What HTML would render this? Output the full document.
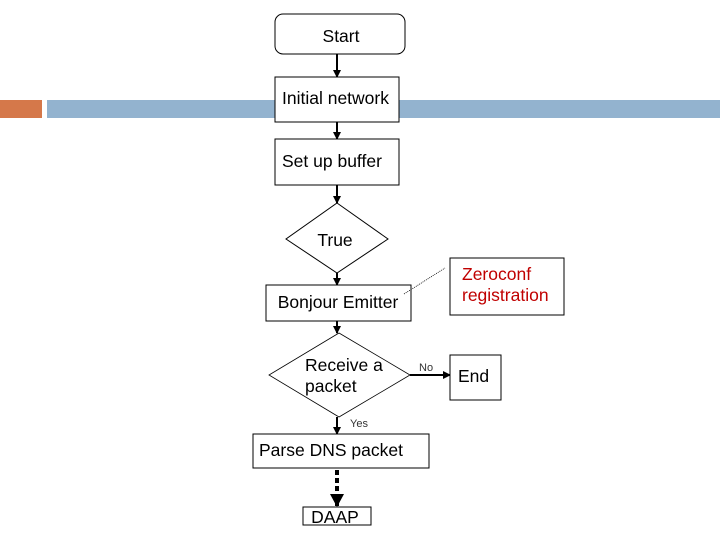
<!DOCTYPE html>
<html><head><style>
body{margin:0;width:720px;height:540px;background:#fff;overflow:hidden;font-family:"Liberation Sans",sans-serif}
</style></head><body>
<svg width="720" height="540" xmlns="http://www.w3.org/2000/svg" font-family="Liberation Sans, sans-serif">
<defs><marker id="a" markerWidth="8" markerHeight="8" refX="7" refY="4" orient="auto" markerUnits="userSpaceOnUse"><path d="M0,0L8,4L0,8z" fill="#000"/></marker>
<marker id="b" markerWidth="14" markerHeight="14" refX="12" refY="7" orient="auto" markerUnits="userSpaceOnUse"><path d="M0,0L13,7L0,14z" fill="#000"/></marker></defs>
<rect x="0" y="100" width="42" height="18" fill="#d5784a"/>
<rect x="47" y="100" width="673" height="18" fill="#93b3cf"/>
<rect x="275" y="14" width="130" height="40" rx="8" fill="#fff" stroke="#000"/>
<text x="341" y="42" font-size="17.5" text-anchor="middle">Start</text>
<line x1="337" y1="54" x2="337" y2="77" stroke="#000" stroke-width="2" marker-end="url(#a)"/>
<rect x="275" y="77" width="124" height="45" fill="#fff" stroke="#000"/>
<text x="282" y="104" font-size="17.5">Initial network</text>
<line x1="337" y1="122" x2="337" y2="139" stroke="#000" stroke-width="2" marker-end="url(#a)"/>
<rect x="275" y="139" width="124" height="46" fill="#fff" stroke="#000"/>
<text x="282" y="167" font-size="17.5">Set up buffer</text>
<line x1="337" y1="185" x2="337" y2="203" stroke="#000" stroke-width="2" marker-end="url(#a)"/>
<polygon points="337,203 388,239 337,273 286,239" fill="#fff" stroke="#000"/>
<text x="335" y="246" font-size="17.5" text-anchor="middle">True</text>
<line x1="337" y1="273" x2="337" y2="285" stroke="#000" stroke-width="2" marker-end="url(#a)"/>
<rect x="266" y="285" width="145" height="36" fill="#fff" stroke="#000"/>
<text x="338" y="308" font-size="17.5" text-anchor="middle">Bonjour Emitter</text>
<line x1="404" y1="294" x2="445" y2="268" stroke="#000" stroke-dasharray="1,1" stroke-width="0.8"/>
<rect x="450" y="258" width="114" height="57" fill="#fff" stroke="#000"/>
<text x="462" y="280" font-size="17.5" fill="#c00000">Zeroconf</text>
<text x="462" y="301" font-size="17.5" fill="#c00000">registration</text>
<line x1="337" y1="321" x2="337" y2="333" stroke="#000" stroke-width="2" marker-end="url(#a)"/>
<polygon points="339,333 410,375 339,417 269,375" fill="#fff" stroke="#000" stroke-width="0.8"/>
<text x="305" y="371" font-size="17.5">Receive a</text>
<text x="305" y="392" font-size="17.5">packet</text>
<line x1="410" y1="375" x2="450" y2="375" stroke="#000" stroke-width="2" marker-end="url(#a)"/>
<text x="419" y="371" font-size="11" fill="#333">No</text>
<rect x="450" y="355" width="51" height="45" fill="#fff" stroke="#000"/>
<text x="458" y="382" font-size="17.5">End</text>
<line x1="337" y1="417" x2="337" y2="434" stroke="#000" stroke-width="2" marker-end="url(#a)"/>
<text x="350" y="427" font-size="11" fill="#333">Yes</text>
<rect x="253" y="434" width="176" height="34" fill="#fff" stroke="#000"/>
<text x="259" y="456" font-size="17.5">Parse DNS packet</text>
<line x1="337" y1="470" x2="337" y2="506" stroke="#000" stroke-width="4" stroke-dasharray="5,3" marker-end="url(#b)"/>
<rect x="303" y="507" width="68" height="18" fill="#fff" stroke="#000"/>
<text x="335" y="523" font-size="17.5" text-anchor="middle">DAAP</text>
</svg>
</body></html>
